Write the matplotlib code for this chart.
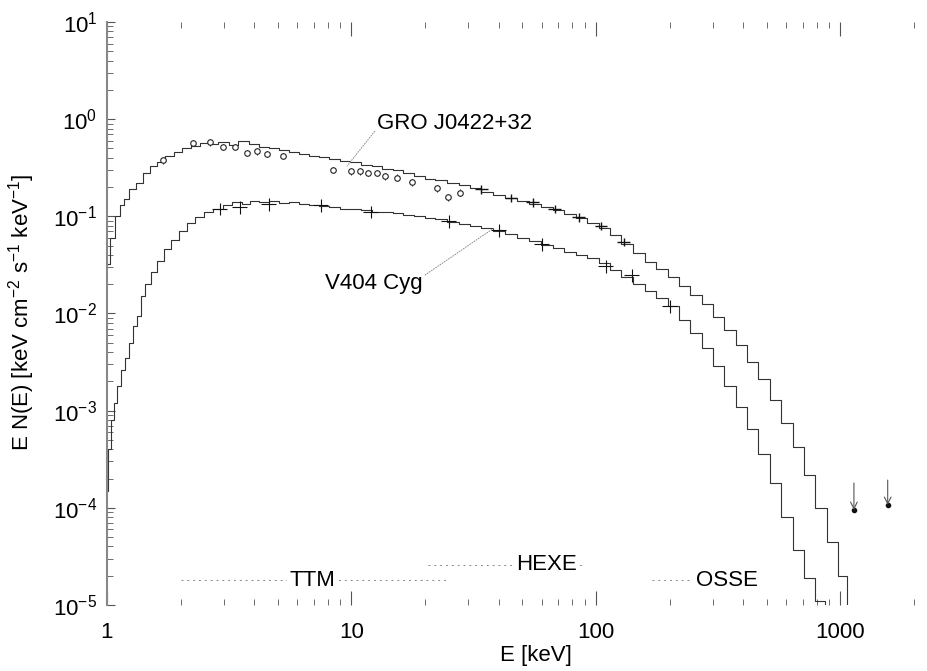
import matplotlib
matplotlib.use("Agg")
import matplotlib.pyplot as plt
from matplotlib.ticker import LogLocator, FixedLocator, FixedFormatter, NullFormatter

plt.rcParams['font.family'] = ['Liberation Sans', 'DejaVu Sans']
plt.rcParams['mathtext.default'] = 'regular'

# GRO J0422+32 spectrum (stepped)
e_gro = [1.0, 1.05, 1.1, 1.15, 1.2, 1.27, 1.35, 1.45, 1.55, 1.65, 1.8, 1.95, 2.1, 2.3, 2.5,
         2.7, 3.0, 3.3, 3.6, 4.0, 4.4, 4.8, 5.3, 5.8, 6.4, 7.0, 7.7, 8.5, 9.4, 10.4, 11.5,
         12.7, 14, 15.5, 17, 19, 21, 23, 26, 29, 32, 36, 40, 45, 50, 56, 63, 70, 78, 87,
         97, 108, 120, 134, 150, 167, 186, 207, 230, 256, 285, 317, 353, 393, 437, 487,
         542, 603, 671, 747, 831, 925, 1030, 1100]
f_gro = [0.032, 0.06, 0.10, 0.13, 0.15, 0.19, 0.22, 0.28, 0.33, 0.36, 0.42, 0.46, 0.50, 0.53,
         0.57, 0.55, 0.58, 0.54, 0.60, 0.56, 0.52, 0.50, 0.48, 0.46, 0.44, 0.42, 0.41, 0.39,
         0.37, 0.36, 0.34, 0.33, 0.31, 0.30, 0.28, 0.26, 0.245, 0.235, 0.22, 0.21, 0.195,
         0.18, 0.165, 0.155, 0.145, 0.135, 0.125, 0.115, 0.105, 0.095, 0.085, 0.075, 0.064,
         0.052, 0.042, 0.034, 0.029, 0.024, 0.019, 0.0155, 0.0125, 0.0093, 0.0068, 0.0047,
         0.0032, 0.0021, 0.0013, 0.00075, 0.00042, 0.00022, 0.0001, 4.5e-5, 2e-5, 8e-6]

# V404 Cyg spectrum (stepped)
e_v404 = [1.0, 1.02, 1.05, 1.08, 1.12, 1.16, 1.2, 1.25, 1.3, 1.35, 1.4, 1.47, 1.55, 1.65,
          1.76, 1.9, 2.05, 2.2, 2.4, 2.6, 2.85, 3.1, 3.4, 3.7, 4.0, 4.4, 4.8, 5.3, 5.8, 6.4,
          7.0, 7.7, 8.5, 9.4, 10.4, 11.5, 12.7, 14, 15.5, 17, 19, 21, 23, 26, 29, 32, 36,
          40, 45, 50, 56, 63, 70, 78, 87, 97, 108, 120, 134, 150, 167, 186, 207, 230, 256,
          285, 317, 353, 393, 437, 487, 542, 603, 671, 747, 831, 900]
f_v404 = [1.5e-4, 4e-4, 8e-4, 1.2e-3, 1.8e-3, 2.6e-3, 3.5e-3, 5e-3, 7.5e-3, 0.0095, 0.015,
          0.020, 0.027, 0.035, 0.046, 0.057, 0.070, 0.085, 0.098, 0.11, 0.12, 0.13, 0.14,
          0.135, 0.145, 0.14, 0.145, 0.138, 0.14, 0.135, 0.13, 0.128, 0.125, 0.12, 0.118,
          0.115, 0.112, 0.11, 0.108, 0.104, 0.10, 0.097, 0.093, 0.088, 0.084, 0.080, 0.075,
          0.071, 0.066, 0.060, 0.056, 0.051, 0.047, 0.043, 0.040, 0.037, 0.033, 0.028, 0.024,
          0.020, 0.017, 0.0145, 0.012, 0.0085, 0.0063, 0.0044, 0.0029, 0.0018, 0.0011,
          0.00065, 0.00036, 0.00018, 8e-5, 3.7e-5, 1.9e-5, 1.1e-5, 6e-6]

# TTM data points of GRO J0422+32 (open circles)
e_pts = [1.69, 2.25, 2.64, 2.98, 3.34, 3.73, 4.1, 4.5, 5.25, 8.4, 10.0, 10.8, 11.7, 12.7,
         13.7, 15.3, 17.7, 22.4, 24.8, 27.7]
f_pts = [0.38, 0.57, 0.58, 0.52, 0.52, 0.45, 0.47, 0.44, 0.42, 0.30, 0.29, 0.29, 0.28, 0.28,
         0.26, 0.25, 0.224, 0.195, 0.158, 0.175]

# HEXE/OSSE points (crosses)
e_gro_x = [34, 45, 55, 68, 85, 105, 130]
f_gro_x = [0.19, 0.155, 0.14, 0.12, 0.098, 0.08, 0.055]
e_v404_x = [2.9, 3.5, 4.6, 7.5, 12, 25, 40, 60, 110, 140, 200]
f_v404_x = [0.12, 0.125, 0.135, 0.13, 0.112, 0.09, 0.072, 0.052, 0.031, 0.025, 0.012]

# upper limits
e_ul = [1135, 1560]
f_ul_top = [1.8e-4, 1.93e-4]
f_ul_bot = [9.5e-5, 1.07e-4]

# instrument labels and ranges
instr = ["TTM", "HEXE", "OSSE"]
instr_x = [6.95, 62.7, 343]
instr_y = [1.8e-5, 2.6e-5, 1.8e-5]
instr_lo = [2.0, 20.5, 170]
instr_hi = [25, 90, 290]

fig = plt.figure(figsize=(9.28, 6.71), dpi=100)
ax = fig.add_axes([0.1153, 0.0984, 0.8697, 0.8688])
ax.set_xscale('log')
ax.set_yscale('log')
ax.set_xlim(1, 2000)
ax.set_ylim(1e-5, 10)

ax.plot(e_gro, f_gro, drawstyle='steps-mid', color='#333333', lw=0.8)
ax.plot(e_v404, f_v404, drawstyle='steps-mid', color='#333333', lw=0.8)

ax.errorbar(e_pts, f_pts, yerr=[[v * 0.08 for v in f_pts], [v * 0.08 for v in f_pts]],
            fmt='o', ms=4, mfc='white', mec='#222222', mew=0.8, ecolor='#222222', elinewidth=0.7,
            capsize=0)
ax.errorbar(e_gro_x, f_gro_x, xerr=[[v * 0.06 for v in e_gro_x], [v * 0.06 for v in e_gro_x]],
            yerr=[[v * 0.1 for v in f_gro_x], [v * 0.1 for v in f_gro_x]],
            fmt='none', ecolor='#111111', elinewidth=1.0)
ax.errorbar(e_v404_x, f_v404_x, xerr=[[v * 0.07 for v in e_v404_x], [v * 0.07 for v in e_v404_x]],
            yerr=[[v * 0.15 for v in f_v404_x], [v * 0.15 for v in f_v404_x]],
            fmt='none', ecolor='#111111', elinewidth=0.8)

#upper limits: arrows with a dot at the tip
for x, yt, yb in zip(e_ul, f_ul_top, f_ul_bot):
    ax.annotate('', xy=(x, yb), xytext=(x, yt),
                arrowprops=dict(arrowstyle='->', color='#555555', lw=0.8, mutation_scale=12,
                                shrinkA=0, shrinkB=0))
    ax.plot([x], [yb], 'o', color='#111111', ms=3)

for name, x, y, lo, hi in zip(instr, instr_x, instr_y, instr_lo, instr_hi):
    ax.plot([lo, hi], [y, y], color='#888888', lw=0.7, ls=(0, (2, 4)))
    ax.text(x, y, name, fontsize=16, ha='center', va='center',
            bbox=dict(facecolor='white', edgecolor='none', pad=2))

ax.annotate('GRO J0422+32', xy=(9.6, 0.33), xytext=(26.5, 0.9), fontsize=16,
            ha='center', va='center',
            arrowprops=dict(arrowstyle='-', color='#888888', lw=0.7, ls=':',
                            shrinkA=0, shrinkB=0, relpos=(0, 0.3)))
ax.annotate('V404 Cyg', xy=(38, 0.075), xytext=(12.3, 0.0205), fontsize=16,
            ha='center', va='center',
            arrowprops=dict(arrowstyle='-', color='#888888', lw=0.7, ls=':',
                            shrinkA=0, shrinkB=0, relpos=(1, 0.8)))

# eixos: so a borda esquerda, ticks em cima e embaixo
for side in ['top', 'right', 'bottom']:
    ax.spines[side].set_visible(False)
ax.spines['left'].set_color('#888888')
ax.spines['left'].set_linewidth(1.5)

ax.xaxis.set_major_locator(FixedLocator([1, 10, 100, 1000]))
ax.xaxis.set_major_formatter(FixedFormatter(['1', '10', '100', '1000']))
ax.xaxis.set_minor_locator(LogLocator(base=10, subs=range(2, 10)))
ax.xaxis.set_minor_formatter(NullFormatter())
ax.yaxis.set_major_locator(FixedLocator([1e-5, 1e-4, 1e-3, 1e-2, 1e-1, 1, 10]))
ax.yaxis.set_major_formatter(FixedFormatter(['$10^{-5}$', '$10^{-4}$', '$10^{-3}$', '$10^{-2}$',
                                             '$10^{-1}$', '$10^{0}$', '$10^{1}$']))
ax.yaxis.set_minor_locator(LogLocator(base=10, subs=range(2, 10)))
ax.yaxis.set_minor_formatter(NullFormatter())

ax.tick_params(axis='x', which='both', direction='in', top=True, bottom=True, color='#555555')
ax.tick_params(axis='x', which='major', length=10, width=0.8, labelsize=16, pad=12)
ax.tick_params(axis='x', which='minor', length=4, width=0.6)
ax.tick_params(axis='y', which='both', direction='in', left=True, right=False, color='#555555')
ax.tick_params(axis='y', which='major', length=6, width=0.8, labelsize=16, pad=7)
ax.tick_params(axis='y', which='minor', length=4, width=0.6)

ax.set_xlabel('E [keV]', fontsize=16)
ax.set_ylabel('E N(E) [keV cm$^{-2}$ s$^{-1}$ keV$^{-1}$]', fontsize=16)
ax.xaxis.set_label_coords(0.532, -0.068)
ax.yaxis.set_label_coords(-0.087, 0.502)

fig.savefig('out.png', dpi=100)
